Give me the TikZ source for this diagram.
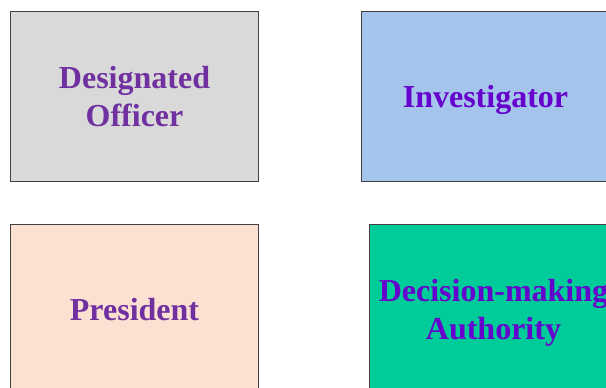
\documentclass[tikz,border=0pt]{standalone}
\usepackage{fontspec}
\setmainfont{Liberation Serif}
\definecolor{grayfill}{HTML}{D9D9D9}
\definecolor{bluefill}{HTML}{A5C4EC}
\definecolor{peachfill}{HTML}{FCE1D2}
\definecolor{greenfill}{HTML}{00CC99}
\definecolor{edgegray}{HTML}{404040}
\definecolor{purpletext}{HTML}{7030A0}
\definecolor{violettext}{HTML}{6600CC}
\tikzset{
  rolebox/.style={draw=edgegray, line width=1pt, rectangle, anchor=north west,
    minimum width=248pt, minimum height=170pt, inner sep=0pt, align=center,
    text depth=0pt,
    font=\fontsize{32}{38}\selectfont\bfseries}
}
\begin{document}
\begin{tikzpicture}[x=1pt,y=-1pt]
\useasboundingbox (0,0) rectangle (606,388);
\node[rolebox, fill=grayfill, text=purpletext] (desig) at (10,11) {Designated\\ Officer};
\node[rolebox, fill=bluefill, text=violettext] (invest) at (361,11) {Investigator};
\node[rolebox, fill=peachfill, text=purpletext] (pres) at (10,224) {President};
\node[rolebox, fill=greenfill, text=violettext] (decis) at (369,224) {Decision-making\\ Authority};
\end{tikzpicture}
\end{document}
